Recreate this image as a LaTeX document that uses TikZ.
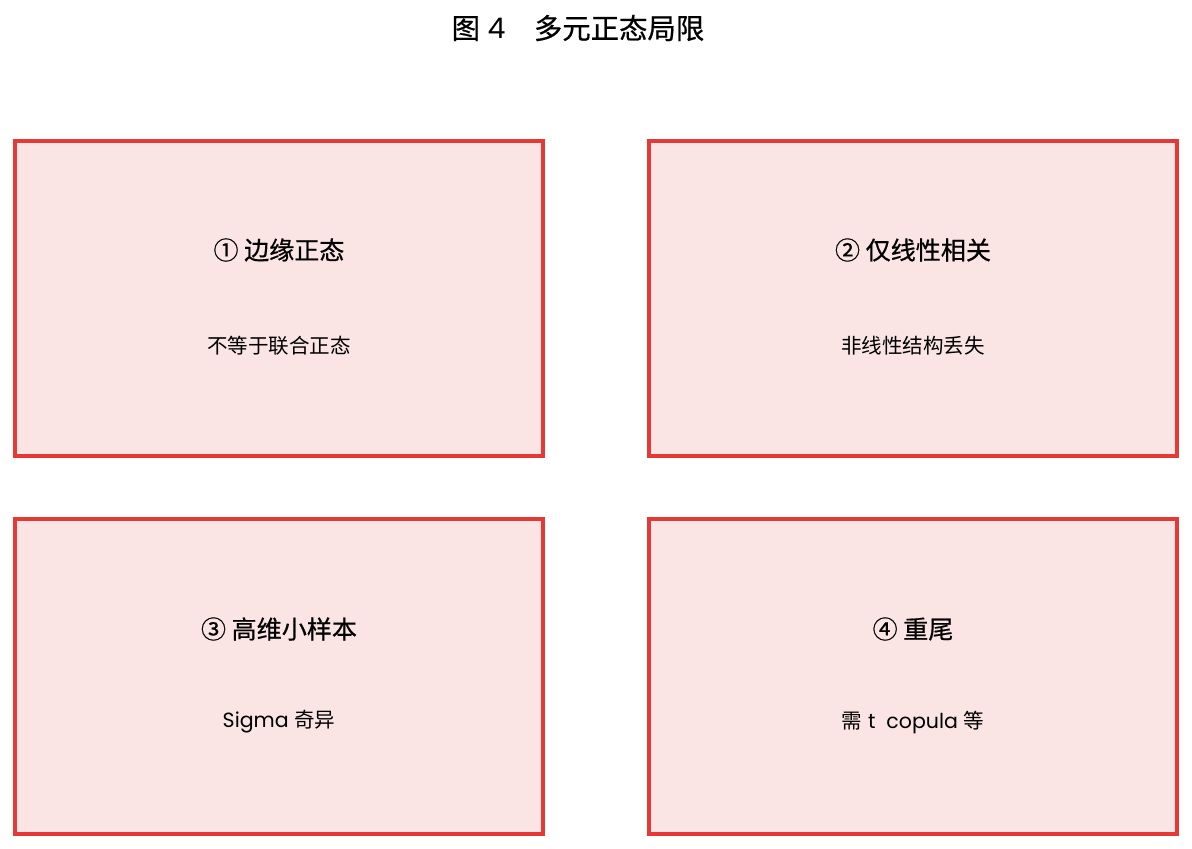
\documentclass[tikz,border=0pt]{standalone}
\usepackage{fontspec}
\setmainfont{Poppins}
\newfontfamily\cjk{Noto Sans CJK SC}
\newfontfamily\cjkm[FakeBold=0.6]{Noto Sans CJK SC}
\definecolor{boxred}{RGB}{229,57,53}
\definecolor{boxfill}{RGB}{250,228,228}
\begin{document}
\begin{tikzpicture}[x=0.75pt,y=-0.75pt,
  panel/.style={draw=boxred,fill=boxfill,line width=3pt},
  head/.style={font=\fontsize{18.8}{22}\selectfont,inner sep=0pt},
  sub/.style={font=\fontsize{15.4}{18}\selectfont,inner sep=0pt},
  ttl/.style={font=\fontsize{21.3}{25}\selectfont,inner sep=0pt}]
\useasboundingbox (0,0) rectangle (1192,849);
\node[ttl] (title) at (578,28) {{\cjkm 图} 4{\cjkm 　多元正态局限}};
\draw[panel] (14.7,141) rectangle (543,456);
\draw[panel] (649,141) rectangle (1177,456);
\draw[panel] (14.7,519) rectangle (543,834);
\draw[panel] (649,519) rectangle (1177,834);
\node[head] (h1) at (279,250) {\cjkm ① 边缘正态};
\node[sub] (s1) at (279,346) {\cjk 不等于联合正态};
\node[head] (h2) at (913,250) {\cjkm ② 仅线性相关};
\node[sub] (s2) at (913,346) {\cjk 非线性结构丢失};
\node[head] (h3) at (279,629) {\cjkm ③ 高维小样本};
\node[sub] (s3) at (279,722) {Sigma {\cjk 奇异}};
\node[head] (h4) at (913,629) {\cjkm ④ 重尾};
\node[sub] (s4) at (913,722) {{\cjk 需} t\ \ copula {\cjk 等}};
\end{tikzpicture}
\end{document}
